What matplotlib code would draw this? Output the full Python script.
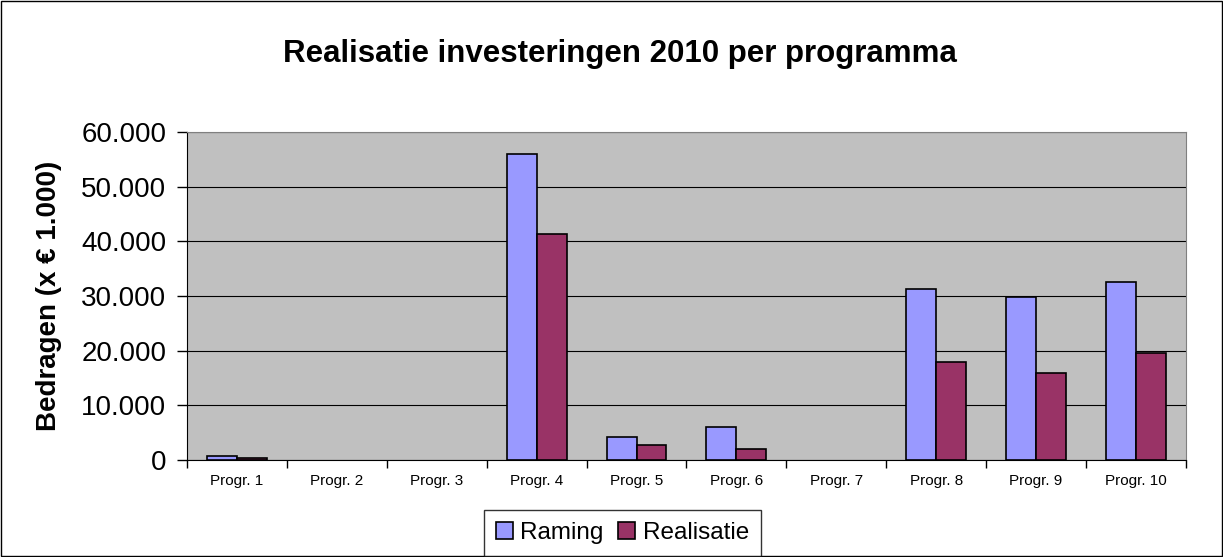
import matplotlib.pyplot as plt
import numpy as np
from matplotlib.ticker import FuncFormatter, FixedLocator

plt.rcParams['font.family'] = ['Liberation Sans', 'DejaVu Sans']

# Data
programmas = ['Progr. 1', 'Progr. 2', 'Progr. 3', 'Progr. 4', 'Progr. 5',
              'Progr. 6', 'Progr. 7', 'Progr. 8', 'Progr. 9', 'Progr. 10']
raming = [700, 0, 0, 56000, 4200, 6000, 0, 31200, 29800, 32600]
realisatie = [350, 0, 0, 41300, 2700, 2000, 0, 18000, 15900, 19500]

fig = plt.figure(figsize=(12.23, 5.57), dpi=100)
ax = fig.add_axes([0.1529, 0.1741, 0.8168, 0.5889])
ax.set_facecolor('#c0c0c0')

x = np.arange(len(programmas))
w = 0.3
# empty programmes get no outline, like the original
lw_r = [1.2 if v else 0 for v in raming]
lw_s = [1.2 if v else 0 for v in realisatie]
ax.bar(x - w/2, raming, w, color='#9999ff', edgecolor='black', linewidth=lw_r,
       label='Raming', zorder=3)
ax.bar(x + w/2, realisatie, w, color='#993366', edgecolor='black', linewidth=lw_s,
       label='Realisatie', zorder=3)

ax.set_xlim(-0.5, len(programmas) - 0.5)
ax.set_ylim(0, 60000)
ax.set_yticks(range(0, 60001, 10000))
ax.yaxis.set_major_formatter(FuncFormatter(lambda v, p: '0' if v == 0 else f'{int(v):,}'.replace(',', '.')))
ax.yaxis.grid(True, color='black', linewidth=0.8, zorder=1)

# ticks at category boundaries, labels at centers
ax.xaxis.set_major_locator(FixedLocator(np.arange(-0.5, len(programmas), 1)))
ax.xaxis.set_minor_locator(FixedLocator(x))
ax.set_xticklabels([])
ax.set_xticklabels(programmas, minor=True, fontsize=11)
ax.tick_params(axis='x', which='major', length=6, width=1, direction='out')
ax.tick_params(axis='x', which='minor', length=0, pad=10)
ax.tick_params(axis='y', labelsize=20, length=7, width=1, direction='out', pad=8)

for s in ['top', 'right']:
    ax.spines[s].set_color('#808080')
for s in ['left', 'bottom']:
    ax.spines[s].set_color('black')

ax.set_ylabel('Bedragen (x € 1.000)', fontsize=20, fontweight='bold', labelpad=14)
fig.text(0.507, 0.903, 'Realisatie investeringen 2010 per programma',
         ha='center', va='center', fontsize=22.5, fontweight='bold')

leg = fig.legend(loc='center', bbox_to_anchor=(0.509, 0.043), ncol=2,
                 fontsize=17.5, frameon=True, fancybox=False, edgecolor='black',
                 handlelength=0.7, handleheight=0.7, handletextpad=0.3,
                 columnspacing=0.6, borderpad=0.5)
leg.get_frame().set_linewidth(1)

# outer figure frame
fig.patches.append(plt.Rectangle((0.001, 0.001), 0.998, 0.997, transform=fig.transFigure,
                                 fill=False, edgecolor='black', linewidth=1))

fig.savefig('out.png', dpi=100)
